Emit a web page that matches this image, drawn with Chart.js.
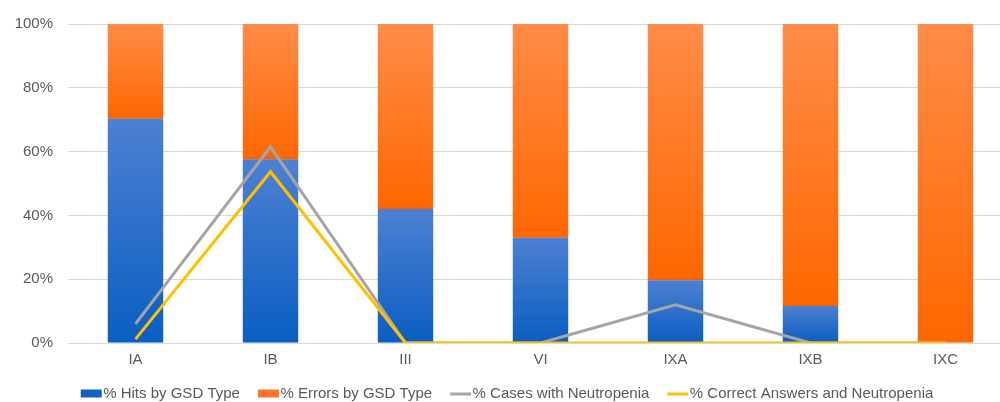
<!DOCTYPE html>
<html>
<head>
<meta charset="utf-8">
<script src="https://cdn.jsdelivr.net/npm/chart.js@4/dist/chart.umd.min.js"></script>
<style>
  html, body { margin: 0; padding: 0; background: #fff; overflow: hidden; }
  #wrap { width: 1000px; height: 402px; overflow: hidden; }
  #box { width: 1013px; height: 402px; }
</style>
</head>
<body>
<div id="wrap"><div id="box"><canvas id="gsdChart"></canvas></div></div>
<script>
const categories = ["IA", "IB", "III", "VI", "IXA", "IXB", "IXC"];
const hitsByType = [70.3, 57.6, 42, 33, 19.7, 11.6, 0];
const errorsByType = [29.7, 42.4, 58, 67, 80.3, 88.4, 100];
const casesNeutropenia = [6, 61.5, 0, 0, 12, 0, 0];
const correctNeutropenia = [1.2, 53.7, 0, 0, 0, 0, 0];
const yTicks = [0, 20, 40, 60, 80, 100];

const FONT = "'Liberation Sans', Arial, sans-serif";

// each stacked segment gets its own vertical gradient (light top, dark bottom)
function segmentGradient(ctx, lower, upper, topColor, bottomColor, flat) {
  const chart = ctx.chart;
  if (!chart.chartArea || ctx.type !== "data") return flat;
  const y = chart.scales.y;
  const i = ctx.dataIndex;
  const top = y.getPixelForValue(upper[i] + (lower ? lower[i] : 0));
  const bottom = y.getPixelForValue(lower ? lower[i] : 0);
  if (bottom - top < 1) return flat;
  const g = chart.ctx.createLinearGradient(0, top, 0, bottom);
  g.addColorStop(0, topColor);
  g.addColorStop(1, bottomColor);
  return g;
}

// legend markers: 20px wide, sitting right next to the text
function legendMark(color, isLine) {
  const c = document.createElement("canvas");
  c.width = 44;
  c.height = 10;
  const g = c.getContext("2d");
  g.fillStyle = color;
  if (isLine) g.fillRect(15, 4, 21, 3);
  else g.fillRect(15, 1, 21, 8);
  return c;
}

// faint halo round the bars
const barShadow = {
  id: "barShadow",
  beforeDatasetDraw(chart, args) {
    if (args.meta.type !== "bar") return;
    const c = chart.ctx;
    c.save();
    c.shadowColor = "rgba(0,0,0,0.16)";
    c.shadowBlur = 3;
  },
  afterDatasetDraw(chart, args) {
    if (args.meta.type !== "bar") return;
    chart.ctx.restore();
  },
};

const ctx = document.getElementById("gsdChart");

new Chart(ctx, {
  type: "bar",
  data: {
    labels: categories,
    datasets: [
      {
        label: "% Hits by GSD Type",
        data: hitsByType,
        stack: "bars",
        order: 3,
        backgroundColor: (c) => segmentGradient(c, null, hitsByType, "#4d80d2", "#0a5ec2", "#1560c4"),
        borderWidth: 0,
        barPercentage: 0.41,
        categoryPercentage: 1,
        pointStyle: legendMark("#1560c4", false),
      },
      {
        label: "% Errors by GSD Type",
        data: errorsByType,
        stack: "bars",
        order: 4,
        backgroundColor: (c) => segmentGradient(c, hitsByType, errorsByType, "#ff8c48", "#ff6700", "#ff7426"),
        borderWidth: 0,
        barPercentage: 0.41,
        categoryPercentage: 1,
        pointStyle: legendMark("#ff7426", false),
      },
      {
        type: "line",
        label: "% Cases with Neutropenia",
        data: casesNeutropenia,
        stack: "grey",
        order: 2,
        borderColor: "#a5a5a5",
        backgroundColor: "#a5a5a5",
        borderWidth: 3,
        pointRadius: 0,
        tension: 0,
        pointStyle: legendMark("#a5a5a5", true),
      },
      {
        type: "line",
        label: "% Correct Answers and Neutropenia",
        data: correctNeutropenia,
        stack: "yellow",
        order: 1,
        borderColor: "#ffc000",
        backgroundColor: "#ffc000",
        borderWidth: 3,
        pointRadius: 0,
        tension: 0,
        pointStyle: legendMark("#ffc000", true),
      },
    ],
  },
  options: {
    responsive: true,
    maintainAspectRatio: false,
    animation: false,
    layout: { padding: { top: 13, right: 0, bottom: -9, left: 0 } },
    plugins: {
      tooltip: { enabled: false },
      legend: {
        position: "bottom",
        labels: {
          usePointStyle: true,
          pointStyleWidth: 16,
          boxHeight: 10,
          padding: 17,
          color: "#595959",
          font: { family: FONT, size: 15 },
          sort: (a, b) => a.datasetIndex - b.datasetIndex,
        },
      },
    },
    scales: {
      x: {
        stacked: true,
        grid: { display: false },
        border: { display: false },
        ticks: { color: "#595959", font: { family: FONT, size: 15 }, padding: 0 },
      },
      y: {
        stacked: true,
        min: 0,
        max: 100,
        afterBuildTicks: (scale) => {
          scale.ticks = yTicks.map((v) => ({ value: v }));
        },
        afterFit: (scale) => {
          scale.width = 68;
        },
        grid: { color: "#d9d9d9", lineWidth: 1, drawTicks: false },
        border: { display: false },
        ticks: {
          color: "#595959",
          font: { family: FONT, size: 15 },
          padding: 15,
          callback: (v) => v + "%",
        },
      },
    },
  },
  plugins: [barShadow],
});
</script>
</body>
</html>
